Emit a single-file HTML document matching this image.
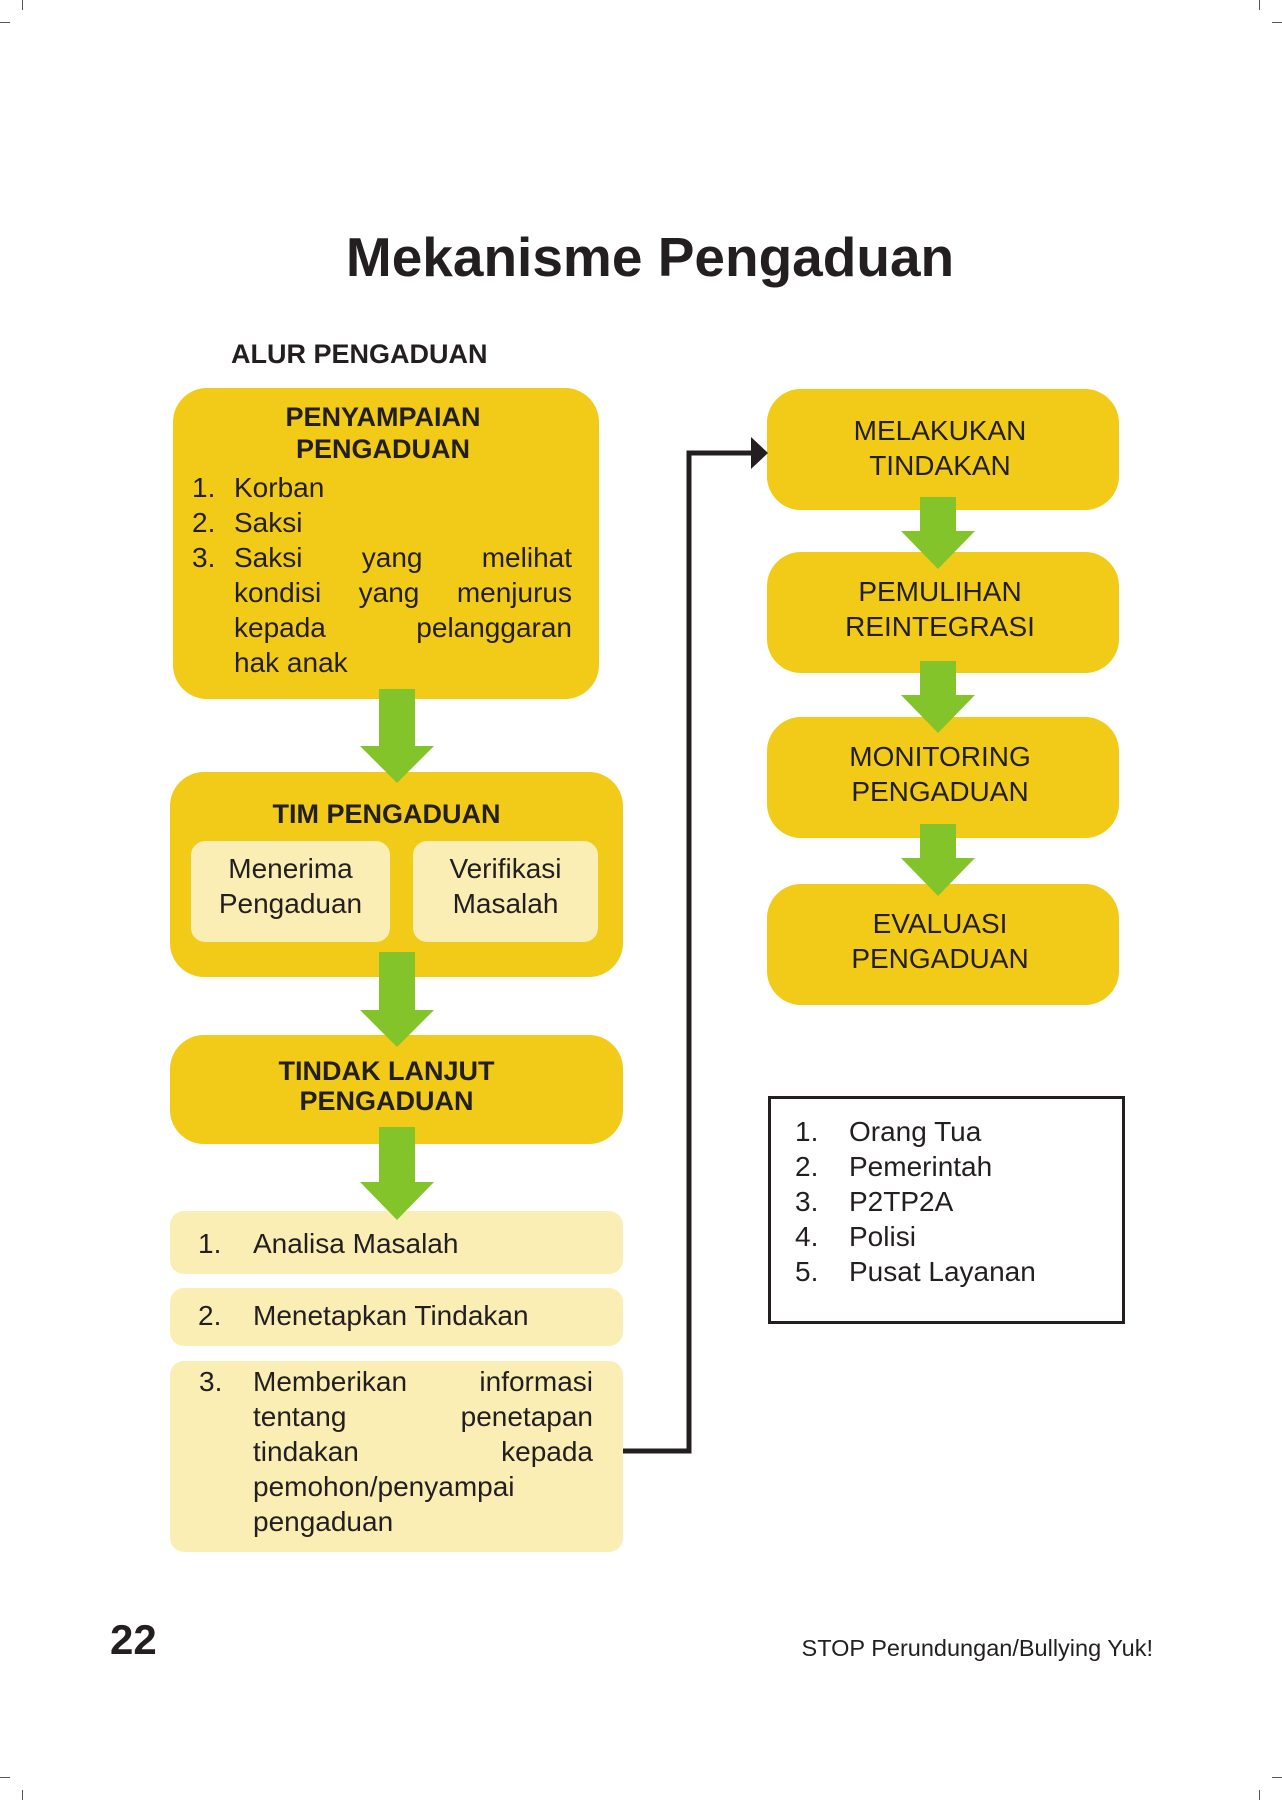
<!DOCTYPE html>
<html><head><meta charset="utf-8"><style>
*{margin:0;padding:0;box-sizing:border-box}
body{width:1282px;height:1800px;background:#fff;position:relative;font-family:"Liberation Sans",sans-serif;color:#231f20;overflow:hidden}
.a{position:absolute}
.y{background:#f1cb17;border-radius:34px}
.l{background:#faeeb4;border-radius:14px}
.c{text-align:center}
.t{font-size:28px;line-height:35px}
.b{font-weight:bold;font-size:27px;line-height:32px}
.j{text-align:justify;text-align-last:justify}
</style></head><body>
<!-- crop marks -->
<div class="a" style="left:0;top:22px;width:10px;height:1px;background:#555"></div>
<div class="a" style="left:22px;top:0;width:1px;height:10px;background:#555"></div>
<div class="a" style="right:0;top:22px;width:10px;height:1px;background:#555"></div>
<div class="a" style="right:22px;top:0;width:1px;height:10px;background:#555"></div>
<div class="a" style="left:0;bottom:22px;width:10px;height:1px;background:#555"></div>
<div class="a" style="left:22px;bottom:0;width:1px;height:10px;background:#555"></div>
<div class="a" style="right:0;bottom:22px;width:10px;height:1px;background:#555"></div>
<div class="a" style="right:22px;bottom:0;width:1px;height:10px;background:#555"></div>

<div class="a c" style="left:0;width:1300px;top:222px;font-size:55px;font-weight:bold;line-height:70px">Mekanisme Pengaduan</div>
<div class="a" style="left:231px;top:339px;font-size:27px;font-weight:bold">ALUR PENGADUAN</div>

<!-- box1 -->
<div class="a y" style="left:173px;top:388px;width:426px;height:311px"></div>
<div class="a c b" style="left:173px;width:420px;top:401px">PENYAMPAIAN<br>PENGADUAN</div>
<div class="a t" style="left:192px;top:470px">1.<br>2.<br>3.</div>
<div class="a t" style="left:234px;top:470px;width:338px">Korban<br>Saksi<br><div class="j">Saksi yang melihat</div><div class="j">kondisi yang menjurus</div><div class="j">kepada pelanggaran</div>hak anak</div>

<!-- box2 -->
<div class="a y" style="left:170px;top:772px;width:453px;height:205px"></div>
<div class="a c b" style="left:170px;width:433px;top:798px">TIM PENGADUAN</div>
<div class="a l c t" style="left:191px;top:841px;width:199px;height:101px;padding-top:10px">Menerima<br>Pengaduan</div>
<div class="a l c t" style="left:413px;top:841px;width:185px;height:101px;padding-top:10px">Verifikasi<br>Masalah</div>

<!-- box3 -->
<div class="a y" style="left:170px;top:1035px;width:453px;height:109px"></div>
<div class="a c b" style="left:170px;width:433px;top:1056px;line-height:30px">TINDAK LANJUT<br>PENGADUAN</div>

<!-- light list -->
<div class="a l t" style="left:170px;top:1211px;width:453px;height:63px;padding:15px 0 0 28px">1.<span style="position:absolute;left:83px">Analisa Masalah</span></div>
<div class="a l t" style="left:170px;top:1288px;width:453px;height:58px;padding:10px 0 0 28px">2.<span style="position:absolute;left:83px">Menetapkan Tindakan</span></div>
<div class="a l" style="left:170px;top:1361px;width:453px;height:191px"></div>
<div class="a t" style="left:199px;top:1364px">3.</div>
<div class="a t" style="left:253px;top:1364px;width:340px"><div class="j">Memberikan informasi</div><div class="j">tentang penetapan</div><div class="j">tindakan kepada</div><div class="j">pemohon/penyampai</div>pengaduan</div>

<!-- right boxes -->
<div class="a y c t" style="left:767px;top:389px;width:346px;height:121px;padding-top:24px">MELAKUKAN<br>TINDAKAN</div>
<div class="a y" style="left:767px;top:552px;width:352px;height:121px"></div>
<div class="a c t" style="left:767px;top:574px;width:346px">PEMULIHAN<br>REINTEGRASI</div>
<div class="a y" style="left:767px;top:717px;width:352px;height:121px"></div>
<div class="a c t" style="left:767px;top:739px;width:346px">MONITORING<br>PENGADUAN</div>
<div class="a y" style="left:767px;top:884px;width:352px;height:121px"></div>
<div class="a c t" style="left:767px;top:906px;width:346px">EVALUASI<br>PENGADUAN</div>
<div class="a y" style="left:767px;top:389px;width:352px;height:121px;z-index:-1"></div>

<!-- arrows on top -->
<svg class="a" style="left:0;top:0;z-index:5" width="1282" height="1800">
<g fill="#84c42b">
<polygon points="379,689 415,689 415,746 434,746 397,783 360,746 379,746"/>
<polygon points="379,952 415,952 415,1010 434,1010 397,1047 360,1010 379,1010"/>
<polygon points="379,1127 415,1127 415,1182 434,1182 397,1220 360,1182 379,1182"/>
<polygon points="920,497 956,497 956,531 975,531 938,569 901,531 920,531"/>
<polygon points="920,661 956,661 956,695 975,695 938,733 901,695 920,695"/>
<polygon points="920,824 956,824 956,858 975,858 938,896 901,858 920,858"/>
</g>
<polyline points="623,1451 689,1451 689,453 755,453" fill="none" stroke="#231f20" stroke-width="5"/>
<polygon points="751,437 768,453 751,469" fill="#231f20"/>
</svg>

<!-- legend -->
<div class="a" style="left:768px;top:1096px;width:357px;height:228px;border:3px solid #231f20"></div>
<div class="a t" style="left:795px;top:1114px">1.<br>2.<br>3.<br>4.<br>5.</div>
<div class="a t" style="left:849px;top:1114px">Orang Tua<br>Pemerintah<br>P2TP2A<br>Polisi<br>Pusat Layanan</div>

<div class="a" style="left:110px;top:1616px;font-size:42px;font-weight:bold">22</div>
<div class="a" style="right:129px;top:1635px;font-size:23.5px">STOP Perundungan/Bullying Yuk!</div>
</body></html>
